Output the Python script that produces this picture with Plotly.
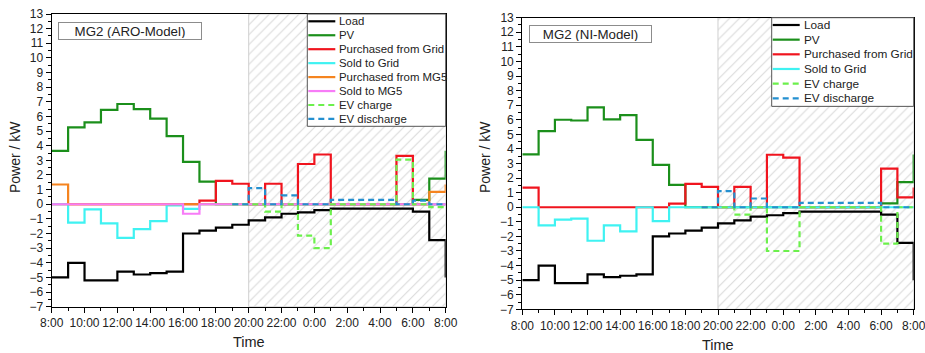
import plotly.graph_objects as go
from plotly.subplots import make_subplots

# ---------------------------------------------------------------------------
# Hourly power balance of microgrid MG2, 8:00 -> 8:00 next day.
# Each list holds one value per hour (held over that hour) plus the value at
# the closing 8:00 instant, i.e. 25 entries.  EV series start at 19:00.
# ---------------------------------------------------------------------------
HOURS = list(range(25))  # hours elapsed since 8:00
TICK_LABELS = ["8:00", "10:00", "12:00", "14:00", "16:00", "18:00", "20:00",
               "22:00", "0:00", "2:00", "4:00", "6:00", "8:00"]
NA = None

load = [-5.0, -4.0, -5.2, -5.2, -4.6, -4.8, -4.7, -4.6, -2.0, -1.8, -1.6, -1.4,
        -1.1, -0.9, -0.65, -0.55, -0.4, -0.3, -0.3, -0.3, -0.3, -0.3, -0.5, -2.45, -5.0]

# ARO model
pv_aro = [3.65, 5.25, 5.6, 6.45, 6.85, 6.5, 5.85, 4.65, 2.9, 1.55, 0, 0,
          0, 0, 0, 0, 0, 0, 0, 0, 0, 0, 0.3, 1.75, 3.65]
grid_buy_aro = [0, 0, 0, 0, 0, 0, 0, 0, 0, 0.25, 1.6, 1.4,
                0, 1.4, 0, 2.75, 3.4, 0, 0, 0, 0, 3.3, 0, 0, 0]
grid_sell_aro = [0, -1.25, -0.35, -1.3, -2.3, -1.7, -1.15, -0.08, -0.32, 0, 0, 0,
                 0, 0, 0, 0, 0, 0, 0, 0, 0, 0, 0, 0, 0]
mg5_buy_aro = [1.35, 0, 0, 0, 0, 0, 0, 0, 0, 0, 0, 0,
               0, 0, 0, 0, 0, 0, 0, 0, 0, 0, 0, 0.85, 1.35]
mg5_sell_aro = [0, 0, 0, 0, 0, 0, 0, 0, -0.65, 0, 0, 0,
                0, 0, 0, 0, 0, 0, 0, 0, 0, 0, 0, 0, 0]
ev_charge_aro = [NA] * 11 + [0, 0, -0.5, 0, -2.15, -3.0, 0, 0, 0, 0, 3.05, 0, -0.2, -0.2]
ev_discharge_aro = [NA] * 11 + [0, 1.1, 0, 0.6, 0, 0, 0.3, 0.3, 0.3, 0.3, 0, 0.25, 0, 0]

# NI model
pv_ni = [3.62, 5.22, 6.0, 5.95, 6.85, 6.02, 6.32, 4.62, 2.9, 1.53, 0, 0,
         0, 0, 0, 0, 0, 0, 0, 0, 0, 0, 0.27, 1.72, 3.62]
grid_buy_ni = [1.35, 0, 0, 0, 0, 0, 0, 0, 0, 0.25, 1.6, 1.4,
               0, 1.4, 0, 3.6, 3.4, 0, 0, 0, 0, 0, 2.65, 0.68, 1.35]
grid_sell_ni = [0, -1.25, -0.85, -0.78, -2.3, -1.25, -1.65, 0, -0.95, 0, 0, 0,
                0, 0, 0, 0, 0, 0, 0, 0, 0, 0, 0, 0, 0]
ev_charge_ni = [NA] * 11 + [0, 0, -0.5, 0, -3.0, -3.0, 0, 0, 0, 0, 0, -2.5, 0, 0]
ev_discharge_ni = [NA] * 11 + [0, 1.1, 0, 0.6, 0, 0, 0.3, 0.3, 0.3, 0.3, 0.3, 0, 0, 0]

PANEL_TITLES = ["MG2 (ARO-Model)", "MG2 (NI-Model)"]
NIGHT_START, NIGHT_END = 12, 24   # 20:00 -> 8:00 shaded
Y_MIN, Y_MAX = -7, 13

# series styling: name -> (colour, dash)
STYLE = {
    "Load": ("#000000", "solid"),
    "PV": ("#1b8f1b", "solid"),
    "Purchased from Grid": ("#f0141e", "solid"),
    "Sold to Grid": ("#3ff2f2", "solid"),
    "Purchased from MG5": ("#f5841f", "solid"),
    "Sold to MG5": ("#f77cf7", "solid"),
    "EV charge": ("#6cf04c", "6px,4px"),
    "EV discharge": ("#2490d0", "6px,4px"),
}

panels = [
    [("Load", load), ("PV", pv_aro), ("Purchased from Grid", grid_buy_aro),
     ("Sold to Grid", grid_sell_aro), ("Purchased from MG5", mg5_buy_aro),
     ("Sold to MG5", mg5_sell_aro), ("EV charge", ev_charge_aro),
     ("EV discharge", ev_discharge_aro)],
    [("Load", load), ("PV", pv_ni), ("Purchased from Grid", grid_buy_ni),
     ("Sold to Grid", grid_sell_ni), ("EV charge", ev_charge_ni),
     ("EV discharge", ev_discharge_ni)],
]

W, H = 925, 353
FONT = "Liberation Sans, Arial, sans-serif"


def px_x(v):
    return v / W


def px_y(v):
    return 1 - v / H


# plot-area geometry per panel (pixels): left, right, top, bottom
AREAS = [(51.7, 445.7, 14.0, 306.7), (522.3, 913.7, 17.7, 309.3)]
# title box (left, top, width, height) and legend (left, top, row pitch, text size)
TITLE_BOX = [(57.7, 22.0, 140, 14), (529.3, 25.0, 119, 14)]
LEGEND = [(307.3, 14.0, 13.95, 11.4), (771.7, 17.7, 14.66, 11.8)]
# axis-title centres (pixels): y-title x position, x-title y position
YTITLE_X = [15.0, 485.0]
XTITLE_Y = [342.3, 344.5]

fig = make_subplots(rows=1, cols=2)

for p, series in enumerate(panels):
    col = p + 1
    # night-time hatched band
    fig.add_trace(go.Scatter(
        x=[NIGHT_START, NIGHT_END, NIGHT_END, NIGHT_START, NIGHT_START],
        y=[Y_MIN, Y_MIN, Y_MAX, Y_MAX, Y_MIN],
        mode="lines", fill="toself", fillcolor="white",
        fillpattern=dict(shape="/", fgcolor="#b4b4b4", bgcolor="white",
                         size=7, solidity=0.16),
        line=dict(color="#cfcfcf", width=1),
        hoverinfo="skip", showlegend=False), row=1, col=col)
    for name, vals in series:
        color, dash = STYLE[name]
        fig.add_trace(go.Scatter(
            x=HOURS, y=vals, mode="lines", name=name, showlegend=False,
            line=dict(color=color, width=2.2, dash=dash, shape="hv")),
            row=1, col=col)

    left, right, top, bottom = AREAS[p]
    xa = "xaxis" if p == 0 else "xaxis2"
    ya = "yaxis" if p == 0 else "yaxis2"
    fig.layout[xa].update(
        domain=[px_x(left), px_x(right)], range=[0, 24], automargin=False,
        tickvals=list(range(0, 25, 2)), ticktext=TICK_LABELS, tickangle=0,
        ticklabeloverflow="allow",
        ticks="outside", ticklen=5, tickwidth=1.2, tickcolor="black",
        minor=dict(dtick=1, ticks="outside", ticklen=3, tickwidth=1.2, tickcolor="black"),
        showline=True, linecolor="black", linewidth=1.3, mirror=True,
        showgrid=False, zeroline=False,
        tickfont=dict(family=FONT, size=12, color="#222"))
    fig.layout[ya].update(
        domain=[px_y(bottom), px_y(top)], range=[Y_MIN, Y_MAX], automargin=False,
        dtick=1, ticks="outside", ticklen=5, tickwidth=1.2, tickcolor="black",
        minor=dict(dtick=0.5, ticks="outside", ticklen=3, tickwidth=1.2, tickcolor="black"),
        showline=True, linecolor="black", linewidth=1.3, mirror=True,
        showgrid=False, zeroline=False,
        tickfont=dict(family=FONT, size=12, color="#222"))

    # axis titles
    fig.add_annotation(xref="paper", yref="paper", x=px_x((left + right) / 2),
                       y=px_y(XTITLE_Y[p]), xanchor="center", yanchor="middle",
                       text="Time", showarrow=False,
                       font=dict(family=FONT, size=14.5, color="#222"))
    fig.add_annotation(xref="paper", yref="paper", x=px_x(YTITLE_X[p]),
                       y=px_y(157.0), xanchor="center", yanchor="middle", textangle=-90,
                       text="Power / kW", showarrow=False,
                       font=dict(family=FONT, size=14, color="#222"))

    # panel title box
    tx, ty, tw, th = TITLE_BOX[p]
    fig.add_annotation(
        xref="paper", yref="paper", x=px_x(tx), y=px_y(ty),
        xanchor="left", yanchor="top", text=PANEL_TITLES[p], showarrow=False,
        width=tw, height=th, align="center", valign="middle",
        font=dict(family=FONT, size=13.3, color="#222"),
        bordercolor="#8c8c8c", borderwidth=1, borderpad=1, bgcolor="white")

    # legend box drawn from the series list
    lx, ly, pitch, fsize = LEGEND[p]
    n = len(series)
    fig.add_shape(type="rect", xref="paper", yref="paper",
                  x0=px_x(lx), x1=px_x(right), y0=px_y(ly), y1=px_y(ly + pitch * n + 0.7),
                  line=dict(color="#555", width=1), fillcolor="white", layer="above")
    for i, (name, _) in enumerate(series):
        color, dash = STYLE[name]
        yy = px_y(ly + 7.3 + pitch * i)
        fig.add_shape(type="line", xref="paper", yref="paper",
                      x0=px_x(lx + 1), x1=px_x(lx + 28), y0=yy, y1=yy,
                      line=dict(color=color, width=2.2, dash=dash), layer="above")
        fig.add_annotation(xref="paper", yref="paper", x=px_x(lx + 30), y=yy,
                           xanchor="left", yanchor="middle", text=name, showarrow=False,
                           font=dict(family=FONT, size=fsize, color="#222"))

fig.update_layout(
    width=W, height=H, margin=dict(l=0, r=0, t=0, b=0, autoexpand=False),
    paper_bgcolor="white", plot_bgcolor="white", showlegend=False)

fig.write_html("out.html")
